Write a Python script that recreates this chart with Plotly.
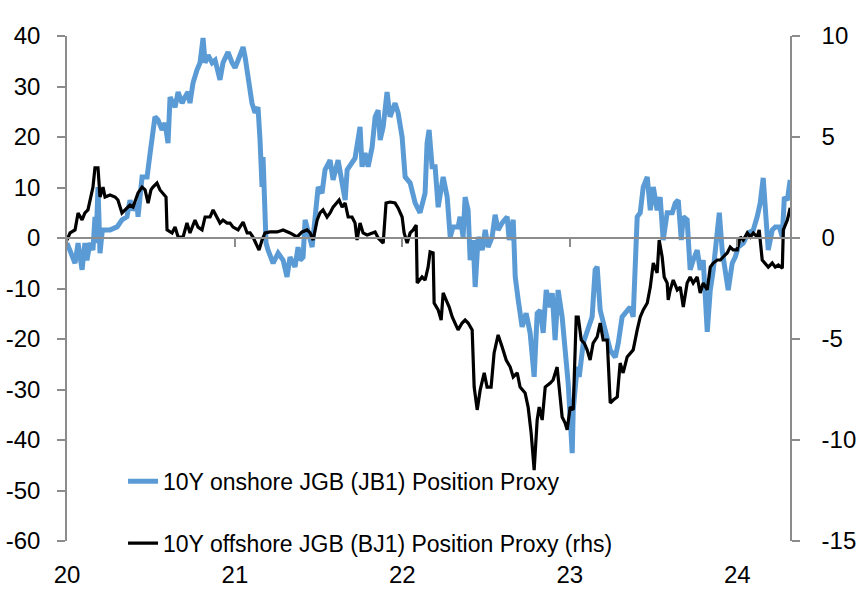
import pandas as pd
import plotly.graph_objects as go

# ---- data (years since 2020-01-01) ----
onshore_t = [0.000,0.018,0.048,0.066,0.090,0.107,0.119,0.137,0.155,0.167,0.173,0.185,0.197,0.209,0.215,0.257,0.299,0.328,0.358,0.376,0.394,0.418,0.424,0.448,0.478,0.496,0.513,0.525,0.543,0.567,0.585,0.603,0.615,0.645,0.663,0.687,0.704,0.722,0.734,0.752,0.776,0.794,0.812,0.824,0.842,0.866,0.884,0.913,0.931,0.961,0.985,1.003,1.021,1.051,1.063,1.081,1.104,1.122,1.140,1.152,1.164,1.170,1.182,1.188,1.200,1.230,1.260,1.290,1.313,1.331,1.361,1.379,1.391,1.409,1.421,1.439,1.463,1.481,1.499,1.522,1.540,1.570,1.588,1.618,1.642,1.660,1.672,1.701,1.719,1.749,1.761,1.779,1.797,1.821,1.839,1.857,1.869,1.887,1.910,1.928,1.958,1.976,2.000,2.018,2.048,2.078,2.107,2.137,2.149,2.161,2.179,2.197,2.215,2.245,2.269,2.287,2.304,2.334,2.346,2.364,2.376,2.394,2.406,2.424,2.436,2.454,2.478,2.496,2.513,2.537,2.555,2.573,2.597,2.627,2.639,2.663,2.675,2.693,2.716,2.740,2.764,2.788,2.806,2.824,2.842,2.860,2.884,2.896,2.913,2.931,2.955,2.973,2.991,3.015,3.021,3.045,3.057,3.081,3.104,3.134,3.152,3.164,3.182,3.200,3.224,3.242,3.272,3.290,3.313,3.343,3.361,3.379,3.403,3.421,3.439,3.463,3.481,3.499,3.522,3.540,3.558,3.582,3.612,3.630,3.648,3.666,3.678,3.701,3.719,3.737,3.761,3.779,3.797,3.821,3.839,3.857,3.881,3.893,3.910,3.928,3.946,3.970,3.988,4.006,4.036,4.066,4.096,4.119,4.137,4.155,4.173,4.185,4.209,4.227,4.251,4.269,4.281,4.299,4.316]
onshore_v = [-1.0,-2.4,-5.0,-1.0,-6.3,-1.0,-4.4,-1.0,-2.4,4.2,-1.0,10.1,-3.0,1.0,1.6,1.6,2.2,3.6,4.2,7.5,5.5,6.9,4.2,12.1,12.1,16.8,21.4,24.0,23.4,21.4,22.8,18.8,27.9,25.9,28.9,26.7,27.9,28.9,26.7,30.7,33.3,34.7,39.6,34.7,36.2,34.7,35.2,31.3,34.7,36.8,34.7,33.7,35.2,37.8,35.8,31.9,26.7,24.8,25.9,19.4,10.1,16.0,4.2,-1.0,-2.4,-5.0,-3.0,-4.4,-7.7,-3.8,-5.7,-1.8,-4.4,-3.8,3.6,1.0,-1.8,4.2,10.1,8.9,13.5,15.4,11.5,15.4,11.5,7.5,13.5,14.9,15.8,22.0,14.1,16.8,14.1,18.0,24.0,25.3,19.4,22.0,28.9,24.0,26.7,24.8,20.0,12.1,10.9,6.9,5.0,8.9,18.8,21.4,14.1,14.1,6.1,12.1,8.1,0.2,2.2,2.2,4.2,0.2,8.1,5.5,-4.4,-0.4,-9.7,0.2,-2.4,1.6,-1.8,0.2,4.6,1.6,3.0,4.2,-0.4,3.6,-7.7,-12.3,-17.6,-14.9,-18.8,-27.5,-14.9,-14.3,-18.8,-10.3,-13.7,-10.9,-20.2,-10.3,-15.6,-22.2,-28.7,-42.6,-34.1,-25.5,-27.5,-20.8,-18.2,-15.6,-6.3,-5.7,-14.3,-16.8,-19.6,-22.2,-23.6,-20.8,-15.6,-14.3,-13.7,-15.6,4.2,5.0,10.1,12.1,5.5,10.1,5.5,8.1,-0.4,5.0,5.0,6.9,7.5,-0.4,4.2,3.6,-6.3,-4.4,-2.4,-6.3,-4.4,-18.6,-10.3,-6.3,0.2,5.0,-2.4,-6.3,-10.3,-5.0,-3.8,-1.8,-1.0,1.0,1.6,4.2,6.9,11.9,1.0,-2.4,1.6,2.2,2.2,0.2,8.1,7.5,11.5]

offshore_t = [0.000,0.018,0.048,0.066,0.090,0.107,0.125,0.149,0.155,0.167,0.185,0.197,0.215,0.227,0.257,0.287,0.304,0.328,0.346,0.376,0.394,0.418,0.424,0.448,0.466,0.484,0.501,0.513,0.537,0.555,0.573,0.591,0.597,0.627,0.645,0.663,0.693,0.716,0.734,0.764,0.782,0.806,0.824,0.854,0.872,0.896,0.913,0.931,0.955,0.973,0.991,1.021,1.051,1.075,1.093,1.110,1.134,1.146,1.164,1.182,1.212,1.254,1.290,1.331,1.373,1.403,1.433,1.451,1.469,1.493,1.510,1.528,1.552,1.570,1.588,1.612,1.624,1.642,1.660,1.678,1.701,1.719,1.731,1.749,1.767,1.791,1.821,1.839,1.857,1.887,1.904,1.928,1.958,1.976,2.000,2.012,2.030,2.048,2.066,2.084,2.090,2.119,2.137,2.155,2.167,2.185,2.191,2.215,2.233,2.245,2.263,2.281,2.299,2.316,2.334,2.358,2.376,2.394,2.418,2.430,2.448,2.466,2.490,2.507,2.531,2.549,2.573,2.597,2.621,2.645,2.663,2.687,2.704,2.734,2.752,2.770,2.788,2.806,2.818,2.836,2.854,2.884,2.901,2.925,2.937,2.955,2.973,2.985,3.003,3.021,3.039,3.051,3.069,3.087,3.104,3.122,3.140,3.164,3.182,3.200,3.224,3.242,3.260,3.284,3.301,3.319,3.343,3.361,3.379,3.403,3.421,3.439,3.463,3.481,3.499,3.522,3.534,3.552,3.564,3.582,3.588,3.600,3.618,3.642,3.660,3.678,3.701,3.719,3.737,3.761,3.779,3.797,3.821,3.839,3.857,3.881,3.899,3.916,3.940,3.958,3.976,4.000,4.018,4.036,4.060,4.078,4.096,4.119,4.131,4.149,4.167,4.185,4.209,4.227,4.245,4.269,4.275,4.299,4.316]
offshore_v = [-0.10,0.25,0.40,1.24,0.90,1.24,1.39,2.23,2.52,3.47,3.47,2.03,2.52,2.03,2.13,2.03,1.88,1.24,1.39,1.63,1.53,2.03,2.23,2.52,2.38,1.73,2.38,2.52,2.72,2.38,2.23,2.03,0.40,0.25,0.54,0.05,0.05,0.74,0.25,0.89,0.54,0.40,1.04,1.04,1.39,1.04,0.74,0.89,0.74,0.74,0.54,0.40,0.79,0.25,0.25,0.05,-0.35,-0.60,-0.10,0.25,0.30,0.30,0.40,0.25,0.05,0.30,0.40,0.25,-0.10,0.89,1.24,1.39,1.04,1.24,1.53,1.73,1.88,1.53,1.73,1.04,1.04,0.74,-0.10,0.74,0.25,0.15,0.25,0.30,0.00,-0.25,1.73,1.78,1.73,1.49,1.04,0.25,-0.25,0.25,0.40,0.64,-2.23,-1.93,-2.08,-1.44,-0.69,-0.74,-3.22,-3.56,-4.06,-2.72,-3.07,-3.42,-3.91,-4.21,-4.55,-4.21,-4.06,-4.21,-4.55,-7.38,-8.51,-7.52,-6.68,-7.38,-7.38,-5.69,-4.80,-5.40,-6.04,-6.39,-6.88,-6.68,-7.38,-7.67,-8.37,-9.65,-11.49,-9.01,-8.37,-9.01,-7.38,-7.18,-7.03,-6.39,-7.52,-8.86,-9.16,-9.50,-8.37,-8.51,-3.91,-3.91,-5.05,-5.20,-5.54,-6.04,-5.20,-4.90,-4.21,-5.05,-5.05,-8.17,-8.02,-7.87,-6.19,-6.68,-5.89,-5.69,-5.54,-4.55,-3.91,-3.56,-3.22,-2.43,-1.24,-1.73,-0.10,-0.94,-1.93,-2.23,-3.07,-2.57,-2.08,-2.57,-2.43,-3.42,-2.23,-1.93,-2.23,-1.93,-2.72,-2.23,-2.57,-1.44,-1.24,-1.09,-1.09,-0.94,-0.74,-0.45,-0.59,-0.59,0.05,-0.10,0.25,0.05,0.25,0.05,0.40,-1.09,-1.24,-1.44,-1.24,-1.44,-1.34,-1.49,0.40,0.89,1.49]

tick_years = ["2020-01-01", "2021-01-01", "2022-01-01", "2023-01-01", "2024-01-01"]
tick_labels = ["20", "21", "22", "23", "24"]
x_range = ["2020-01-01", "2024-04-25"]
left_ticks = [-60, -50, -40, -30, -20, -10, 0, 10, 20, 30, 40]
left_labels = ["-60", "-50", "-40", "-30", "-20", "-10", "0", "10", "20", "30", "40"]
right_ticks = [-15, -10, -5, 0, 5, 10]
right_labels = ["-15", "-10", "-5", "0", "5", "10"]

name_on = "10Y onshore JGB (JB1) Position Proxy"
name_off = "10Y offshore JGB (BJ1) Position Proxy (rhs)"

assert len(onshore_t) == len(onshore_v)
assert len(offshore_t) == len(offshore_v)

base = pd.Timestamp("2020-01-01")
def to_dates(ts):
    return [base + pd.to_timedelta(t * 365.25, unit="D") for t in ts]

FONT = "Liberation Sans, Arial, sans-serif"
AXC = "#8c8c8c"

fig = go.Figure()
fig.add_trace(go.Scatter(x=to_dates(onshore_t), y=onshore_v, mode="lines",
                         name=name_on, legendgroup="a",
                         line=dict(color="#5B9BD5", width=5)))
fig.add_trace(go.Scatter(x=to_dates(offshore_t), y=offshore_v, mode="lines",
                         name=name_off, legendgroup="b",
                         xaxis="x2", yaxis="y2",
                         line=dict(color="#000000", width=3.2)))

axis_common = dict(showgrid=False, zeroline=False, automargin=False)

fig.update_layout(
    template="none",
    width=857, height=600,
    margin=dict(l=67, r=67, t=36, b=59, autoexpand=False),
    paper_bgcolor="white", plot_bgcolor="white",
    font=dict(family=FONT, size=24, color="black"),
    showlegend=True,
    legend=dict(x=0.0775, y=0.161, xanchor="left", yanchor="top",
                bgcolor="rgba(0,0,0,0)", borderwidth=0, font=dict(size=23),
                itemwidth=30, tracegroupgap=29, traceorder="grouped"),
    xaxis=dict(type="date", range=x_range, tickmode="array", tickvals=tick_years,
               ticktext=tick_labels, showline=False, ticks="",
               ticklabelstandoff=17, **axis_common),
    xaxis2=dict(type="date", range=x_range, tickmode="array", tickvals=tick_years,
                overlaying="x", anchor="free", position=0.6, side="bottom",
                showline=True, linecolor=AXC, linewidth=1.5,
                ticks="outside", ticklen=8, tickwidth=1.5, tickcolor=AXC,
                showticklabels=False, **axis_common),
    yaxis=dict(range=[-60, 40], tickmode="array", tickvals=left_ticks, ticktext=left_labels,
               showline=True, linecolor=AXC, linewidth=1.5, ticks="outside", ticklen=8,
               tickwidth=1.5, tickcolor=AXC, ticklabelstandoff=12, **axis_common),
    yaxis2=dict(range=[-15, 10], tickmode="array", tickvals=right_ticks, ticktext=right_labels,
                overlaying="y", side="right", anchor="x",
                showline=True, linecolor=AXC, linewidth=1.5, ticks="outside",
                ticklen=8, tickwidth=1.5, tickcolor=AXC, ticklabelstandoff=17,
                **axis_common),
)

fig.write_html("out.html", config={"displayModeBar": False},
               post_script="document.body.style.margin='0';")
